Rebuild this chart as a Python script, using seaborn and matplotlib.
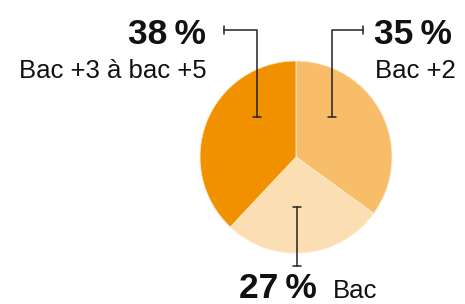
import matplotlib
matplotlib.use("Agg")
import matplotlib.pyplot as plt
import seaborn as sns

# data (clockwise from 12 o'clock)
categories = ["Bac +2", "Bac", "Bac +3 à bac +5"]
shares = [35, 27, 38]
pct_labels = ["35\u2009%", "27\u2009%", "38\u2009%"]
colors = ["#F7BD69", "#FBDEB2", "#F29100"]

sns.set_theme(style="white")
plt.rcParams["font.family"] = ["Liberation Sans", "DejaVu Sans"]

W, H = 465, 304
fig = plt.figure(figsize=(W / 100, H / 100), dpi=100, facecolor="white")
ax = fig.add_axes([0, 0, 1, 1])

# pie, y measured from bottom
cx, cy, r = 296, H - 157, 96
ax.pie(shares, colors=sns.color_palette(colors), startangle=90, counterclock=False,
       center=(cx, cy), radius=r, frame=True,
       wedgeprops=dict(linewidth=0.6, edgecolor="#FCE9CF"))
ax.set_xlim(0, W)
ax.set_ylim(0, H)
ax.set_aspect("equal")
ax.axis("off")

lc = "#222222"
lw = 1.1
tick = 4


def y(p):
    return H - p


# leader for Bac +2 (right)
ax.plot([332, 332, 363], [y(117), y(30), y(30)], color=lc, lw=lw)
ax.plot([332 - tick, 332 + tick], [y(117), y(117)], color=lc, lw=lw)
ax.plot([363, 363], [y(30) - tick, y(30) + tick], color=lc, lw=lw)

# leader for Bac +3 à bac +5 (left)
ax.plot([257, 257, 224], [y(117), y(30), y(30)], color=lc, lw=lw)
ax.plot([257 - tick, 257 + tick], [y(117), y(117)], color=lc, lw=lw)
ax.plot([224, 224], [y(30) - tick, y(30) + tick], color=lc, lw=lw)

# leader for Bac (bottom)
ax.plot([297, 297], [y(207), y(266)], color=lc, lw=lw)
ax.plot([297 - tick, 297 + tick], [y(207), y(207)], color=lc, lw=lw)
ax.plot([297 - tick, 297 + tick], [y(266), y(266)], color=lc, lw=lw)

big = 25.5
small = 18.5
tc = "#111111"

ax.text(374, y(44), pct_labels[0], fontsize=big, fontweight="bold", color=tc,
        ha="left", va="baseline")
ax.text(375, y(78), categories[0], fontsize=small, color=tc, ha="left", va="baseline")

ax.text(206, y(44), pct_labels[2], fontsize=big, fontweight="bold", color=tc,
        ha="right", va="baseline")
ax.text(207, y(78), categories[2], fontsize=small, color=tc, ha="right", va="baseline")

ax.text(239, y(298), pct_labels[1], fontsize=big, fontweight="bold", color=tc,
        ha="left", va="baseline")
ax.text(333, y(298), categories[1], fontsize=small, color=tc, ha="left", va="baseline")

fig.savefig("out.png", dpi=100, facecolor="white")
